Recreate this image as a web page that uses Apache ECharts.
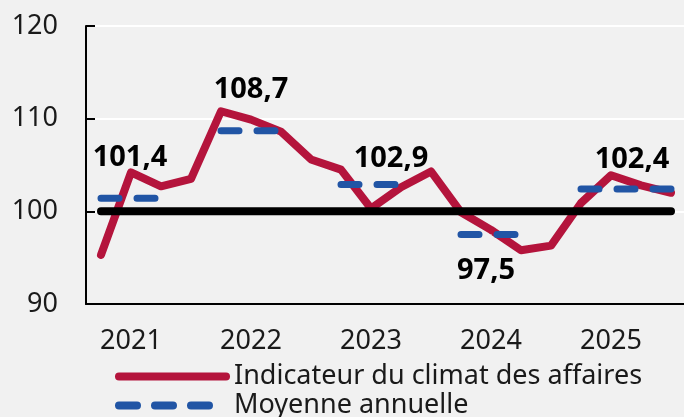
<!DOCTYPE html>
<html>
<head>
<meta charset="utf-8">
<script src="https://cdn.jsdelivr.net/npm/echarts@6/dist/echarts.min.js"></script>
<style>
  html, body { margin: 0; padding: 0; background: #f1f1f1; }
  #main { width: 684px; height: 417px; }
</style>
</head>
<body>
<div id="main"></div>
<script>
var years = ['2021', '2022', '2023', '2024', '2025'];
var quarterNames = ['T1', 'T2', 'T3', 'T4'];
// indicateur trimestriel
var climat = [95.3, 104.2, 102.7, 103.5,
              110.8, 109.9, 108.6, 105.6,
              104.5, 100.3, 102.6, 104.3,
              99.9, 98.0, 95.8, 96.3,
              100.9, 103.9, 102.8, 102.0];
// moyenne annuelle
var moyenne = [101.4, 108.7, 102.9, 97.5, 102.4];
var reference = 100;
var yTicks = [90, 100, 110, 120];

var chart = echarts.init(document.getElementById('main'));
var font = 'Noto Sans';

var categories = [];
years.forEach(function (y) {
    quarterNames.forEach(function (q) { categories.push(y + ' ' + q); });
});

// segment moyenne : T1-T3 de chaque année (T1-T4 pour la dernière)
var moyenneData = [];
years.forEach(function (y, i) {
    for (var q = 0; q < 4; q++) {
        moyenneData.push(q < 3 || i === years.length - 1 ? moyenne[i] : null);
    }
});
var refData = categories.map(function () { return reference; });

// décalage des étiquettes (px) par rapport au point T2 de l'année
var labelOffsets = [[-1, -44], [0, -44], [20, -29], [-5, 33], [21, -32]];
var labelData = moyenne.map(function (v, i) {
    return {
        value: [i * 4 + 1, v],
        label: { offset: labelOffsets[i] }
    };
});

var option = {
    backgroundColor: '#f1f1f1',
    animation: false,
    grid: { left: 86, right: -2, top: 26, bottom: 113, outerBoundsMode: 'none' },
    legend: {
        orient: 'vertical',
        left: 115,
        top: 362,
        height: 80,
        padding: 0,
        itemWidth: 107,
        itemHeight: 14,
        itemGap: 0,
        data: ['Indicateur du climat des affaires', 'Moyenne annuelle'],
        itemStyle: { opacity: 0 },
        lineStyle: { width: 8, cap: 'round' },
        textStyle: { fontFamily: font, fontSize: 27, color: '#1a1a1a', lineHeight: 29, padding: [0, 0, 0, 3] }
    },
    xAxis: {
        type: 'category',
        data: categories,
        boundaryGap: true,
        axisLine: { lineStyle: { color: '#000', width: 2 } },
        axisTick: { inside: true, length: 9, interval: 3, lineStyle: { color: '#000', width: 2 } },
        axisLabel: {
            interval: function (idx) { return idx % 4 === 1; },
            formatter: function (v) { return v.split(' ')[0]; },
            fontFamily: font, fontSize: 27, color: '#1a1a1a', margin: 24
        },
        splitLine: { show: false }
    },
    yAxis: {
        type: 'value',
        min: yTicks[0],
        max: yTicks[yTicks.length - 1],
        interval: 10,
        axisLine: { show: true, lineStyle: { color: '#000', width: 2 } },
        axisTick: { show: true, inside: true, length: 9, lineStyle: { color: '#000', width: 2 } },
        axisLabel: { fontFamily: font, fontSize: 27, color: '#1a1a1a', margin: 28 },
        splitLine: { lineStyle: { color: '#ffffff', width: 2 } }
    },
    series: [
        {
            name: 'Indicateur du climat des affaires',
            type: 'line',
            data: climat,
            symbol: 'none',
            z: 2,
            lineStyle: { color: '#b4143c', width: 8, cap: 'round', join: 'round' },
            itemStyle: { color: '#b4143c' }
        },
        {
            name: 'ref',
            type: 'line',
            data: refData,
            symbol: 'none',
            z: 3,
            silent: true,
            lineStyle: { color: '#000', width: 8, cap: 'round' }
        },
        {
            name: 'Moyenne annuelle',
            type: 'line',
            data: moyenneData,
            symbol: 'none',
            connectNulls: false,
            z: 4,
            lineStyle: { color: '#2155a5', width: 7, type: [18, 18], cap: 'round' },
            itemStyle: { color: '#2155a5' }
        },
        {
            name: 'etiquettes',
            type: 'scatter',
            data: labelData,
            symbolSize: 1,
            z: 5,
            itemStyle: { color: '#f1f1f1', opacity: 1 },
            label: {
                show: true,
                position: 'top',
                distance: 0,
                formatter: function (p) { return p.value[1].toFixed(1).replace('.', ','); },
                fontFamily: font, fontSize: 29, fontWeight: 'bold', color: '#000'
            }
        }
    ]
};
// position 'top' : le bas du texte est au point, on remonte le centre
labelData.forEach(function (d) { d.label.offset = [d.label.offset[0], d.label.offset[1] + 18]; });
chart.setOption(option);
</script>
</body>
</html>
